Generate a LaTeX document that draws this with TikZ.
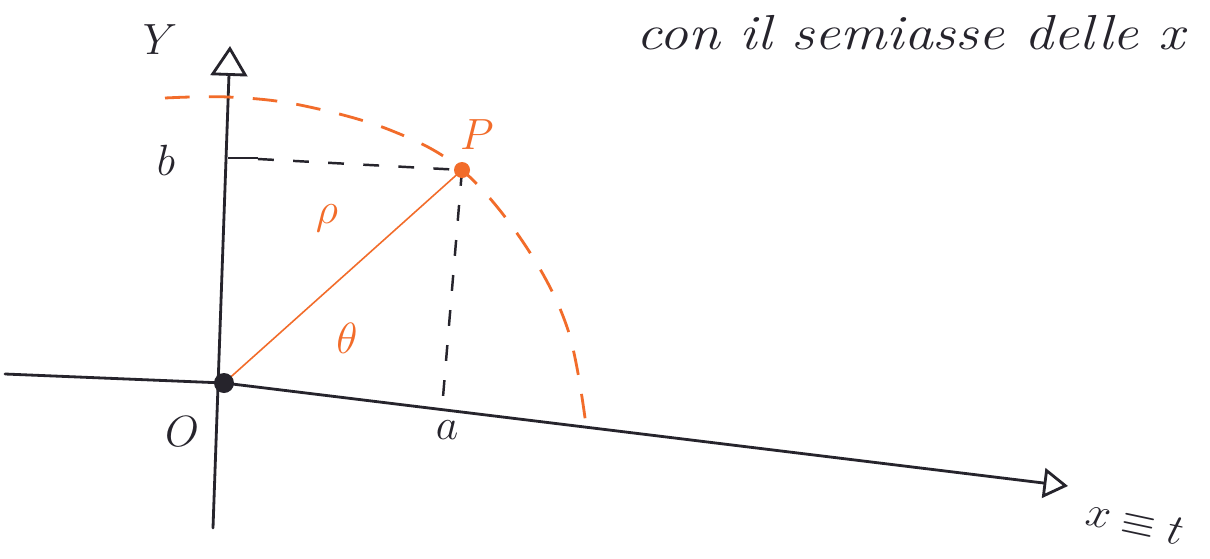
\documentclass[tikz,border=0pt]{standalone}
\usetikzlibrary{arrows.meta}
\definecolor{pen}{RGB}{38,36,44}
\definecolor{orng}{RGB}{242,108,42}
\begin{document}
\begin{tikzpicture}[x=0.02cm,y=-0.02cm,
  axis/.style={draw=pen,line width=1.6pt,line cap=round},
  guide/.style={draw=pen,line width=1.4pt,dash pattern=on 9pt off 11pt},
  arcline/.style={draw=orng,line width=1.6pt,dash pattern=on 14pt off 11pt},
  lab/.style={text=pen,font=\fontsize{31}{33}\selectfont},
  olab/.style={text=orng,font=\fontsize{31}{33}\selectfont}]
\useasboundingbox (0,0) rectangle (1210,558);
\fill[white] (0,0) rectangle (1210,558);
% named points
\coordinate (O) at (224,383);
\coordinate (ytop) at (230,46);
\coordinate (ybot) at (213,528);
\coordinate (xleft) at (5,374);
\coordinate (xend) at (1068,486);
\coordinate (P) at (462,170);
\coordinate (btick) at (228,158);
\coordinate (afoot) at (443,397);
% axes
\draw[axis,-{Triangle[open,length=17pt,width=21pt,line width=1.6pt]}] (ybot) -- (ytop);
\draw[axis] (xleft) -- (O);
\draw[axis,-{Triangle[open,length=14pt,width=17pt,line width=1.6pt]}] (O) -- (xend);
% projections
\draw[pen,line width=1.4pt] (btick) -- (258,158);
\draw[guide] (258,159) -- (P);
\draw[guide] (P) -- (afoot);
% radius
\draw[orng,line width=0.9pt] (O) -- (P);
% arc
\draw[arcline] plot[smooth,tension=0.6] coordinates {(165,98) (228,97) (300,105) (390,130) (P) (525,245) (568,330) (587,433)};
% points
\fill[pen] (O) circle (10);
\fill[orng] (P) circle (8);
% labels
\node[lab] (lY) at (160,40) {$Y$};
\node[lab] (lb) at (166,160) {$b$};
\node[lab] (lO) at (182,432) {$O$};
\node[lab] (la) at (447,430) {$a$};
\node[olab] (lP) at (477,135) {$P$};
\node[olab] (lrho) at (327,218) {$\rho$};
\node[olab] (ltheta) at (347,338) {$\theta$};
\node[lab,rotate=-12] (lx) at (1135,522) {$x\equiv t$};
\node[text=pen,font=\fontsize{28}{30}\selectfont,anchor=west,inner xsep=0pt] (top) at (636,33) {\scalebox{1.17}[1]{\itshape con il semiasse delle x}};
\end{tikzpicture}
\end{document}
